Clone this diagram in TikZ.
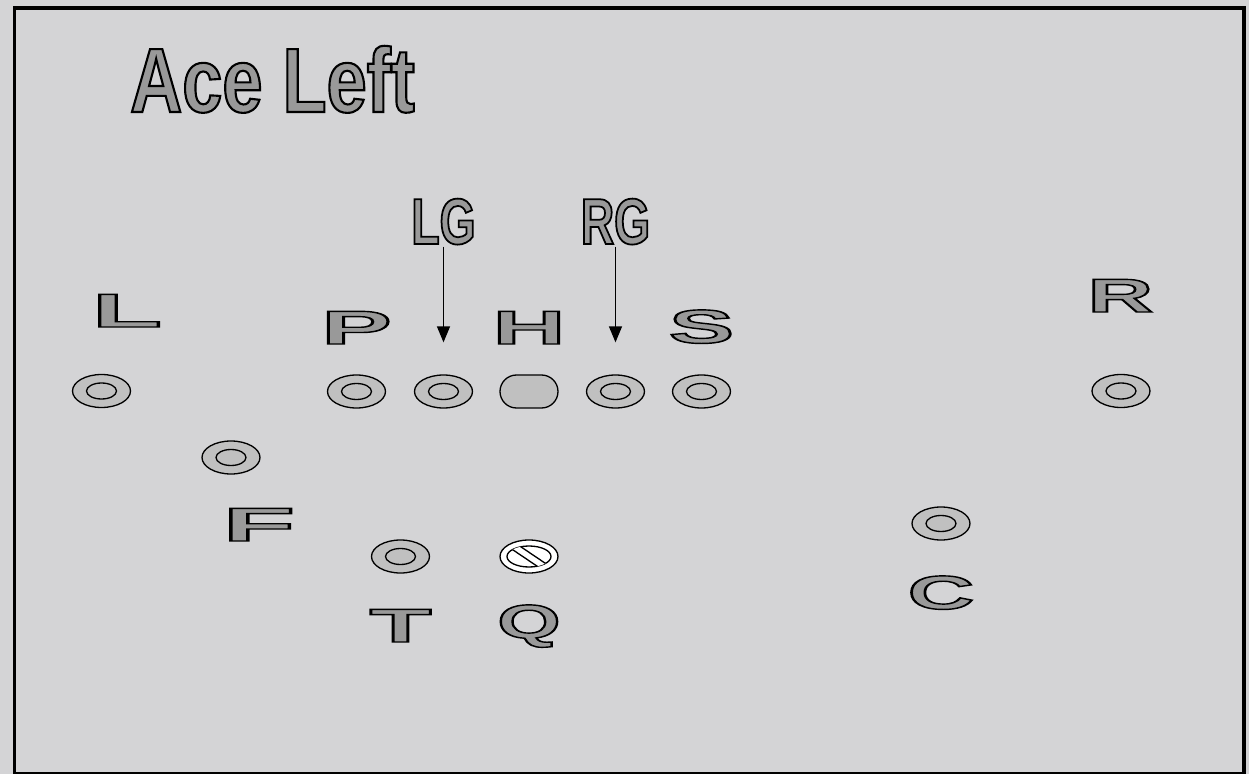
\documentclass[tikz,border=0pt]{standalone}
\usepackage{fontspec}
\usepackage{graphicx}
\usetikzlibrary{arrows.meta,shapes.geometric,calc}
\setmainfont{Liberation Sans}
\newfontfamily\titlefont{Liberation Sans}[FakeStretch=0.79]
\newfontfamily\tagfont{Liberation Sans}[FakeStretch=0.71]
\definecolor{field}{RGB}{212,212,214}
\definecolor{mark}{RGB}{153,153,153}
\definecolor{chip}{RGB}{192,192,192}
% filled grey letters with a black rim
\newcommand\hollowtext[2][0.6]{\special{pdf:literal direct 0 G 2 Tr #1 w}#2\special{pdf:literal direct 0 Tr}}
\newcommand\widemark[2]{\scalebox{#1}[1]{\hollowtext[0.8]{#2}}}
\tikzset{
  >={Triangle[length=3.2mm,width=2.6mm]},
  player/.style={ellipse,draw,line width=0.75pt,fill=chip,inner sep=0pt,
    minimum width=1.16cm,minimum height=0.66cm,
    path picture={\draw[line width=0.75pt] (path picture bounding box.center) ellipse (0.3cm and 0.16cm);}},
  snapper/.style={rectangle,rounded corners=0.33cm,draw,line width=0.75pt,fill=chip,
    inner sep=0pt,minimum width=1.16cm,minimum height=0.66cm},
  passer/.style={ellipse,draw,line width=0.75pt,fill=white,inner sep=0pt,
    minimum width=1.16cm,minimum height=0.66cm,
    path picture={
      \begin{scope}[shift={(path picture bounding box.center)}]
        \draw[line width=0.75pt] (0,0) ellipse (0.44cm and 0.21cm);
        \clip (0,0) ellipse (0.44cm and 0.21cm);
        \draw[line width=0.75pt,fill=white] (-0.541cm,0.449cm) -- (0.619cm,-0.333cm)
          -- (0.541cm,-0.449cm) -- (-0.619cm,0.333cm) -- cycle;
      \end{scope}}},
  letter/.style={anchor=base,inner sep=0pt,text=mark,font=\fontsize{27}{30}\selectfont\bfseries},
  tag/.style={anchor=base,inner sep=1pt,text=mark,font=\tagfont\fontsize{37}{40}\selectfont\bfseries},
  title/.style={anchor=base,inner sep=0pt,text=mark,font=\titlefont\fontsize{52}{60}\selectfont\bfseries},
  route/.style={->,line width=0.75pt,shorten >=0.64cm},
}
\begin{document}
\begin{tikzpicture}[x=0.02cm,y=-0.02cm]
  \useasboundingbox (0,0) rectangle (1249,774);
  \fill[field] (0,0) rectangle (1249,774);
  \draw[line width=0.08cm] (14.5,8) rectangle (1243.5,773.5);

  \node[title] (title) at (272.5,112) {\hollowtext[1.2]{Ace Left}};

  % players
  \foreach \n/\x/\y in {L/101.5/391,P/356.5/391.5,LG/443.5/391.5,RG/615.5/391.5,S/701.5/391.5,
                        R/1121/391,F/231/457.5,T/400.5/556.5,C/941/523.5}
    \node[player] (\n) at (\x,\y) {};
  \node[snapper] (H) at (529,391.5) {};
  \node[passer] (Q) at (529,556.5) {};

  % position letters
  \foreach \n/\s/\x/\y in {L/2.41/127/327,P/2.22/356.5/344,H/2.12/529/344,S/2.06/701.5/343,
                           R/1.91/1120.5/312,F/2.49/259/541,T/2.13/400.5/642,Q/1.71/529/638,C/1.94/941/609}
    \node[letter] (\n-lab) at (\x,\y) {\widemark{\s}{\n}};

  \node[tag] (LG-lab) at (443.5,244) {\hollowtext[1.0]{LG}};
  \node[tag] (RG-lab) at (615.5,244) {\hollowtext[1.0]{RG}};
  \draw[route] (LG-lab) -- (LG);
  \draw[route] (RG-lab) -- (RG);
\end{tikzpicture}
\end{document}
